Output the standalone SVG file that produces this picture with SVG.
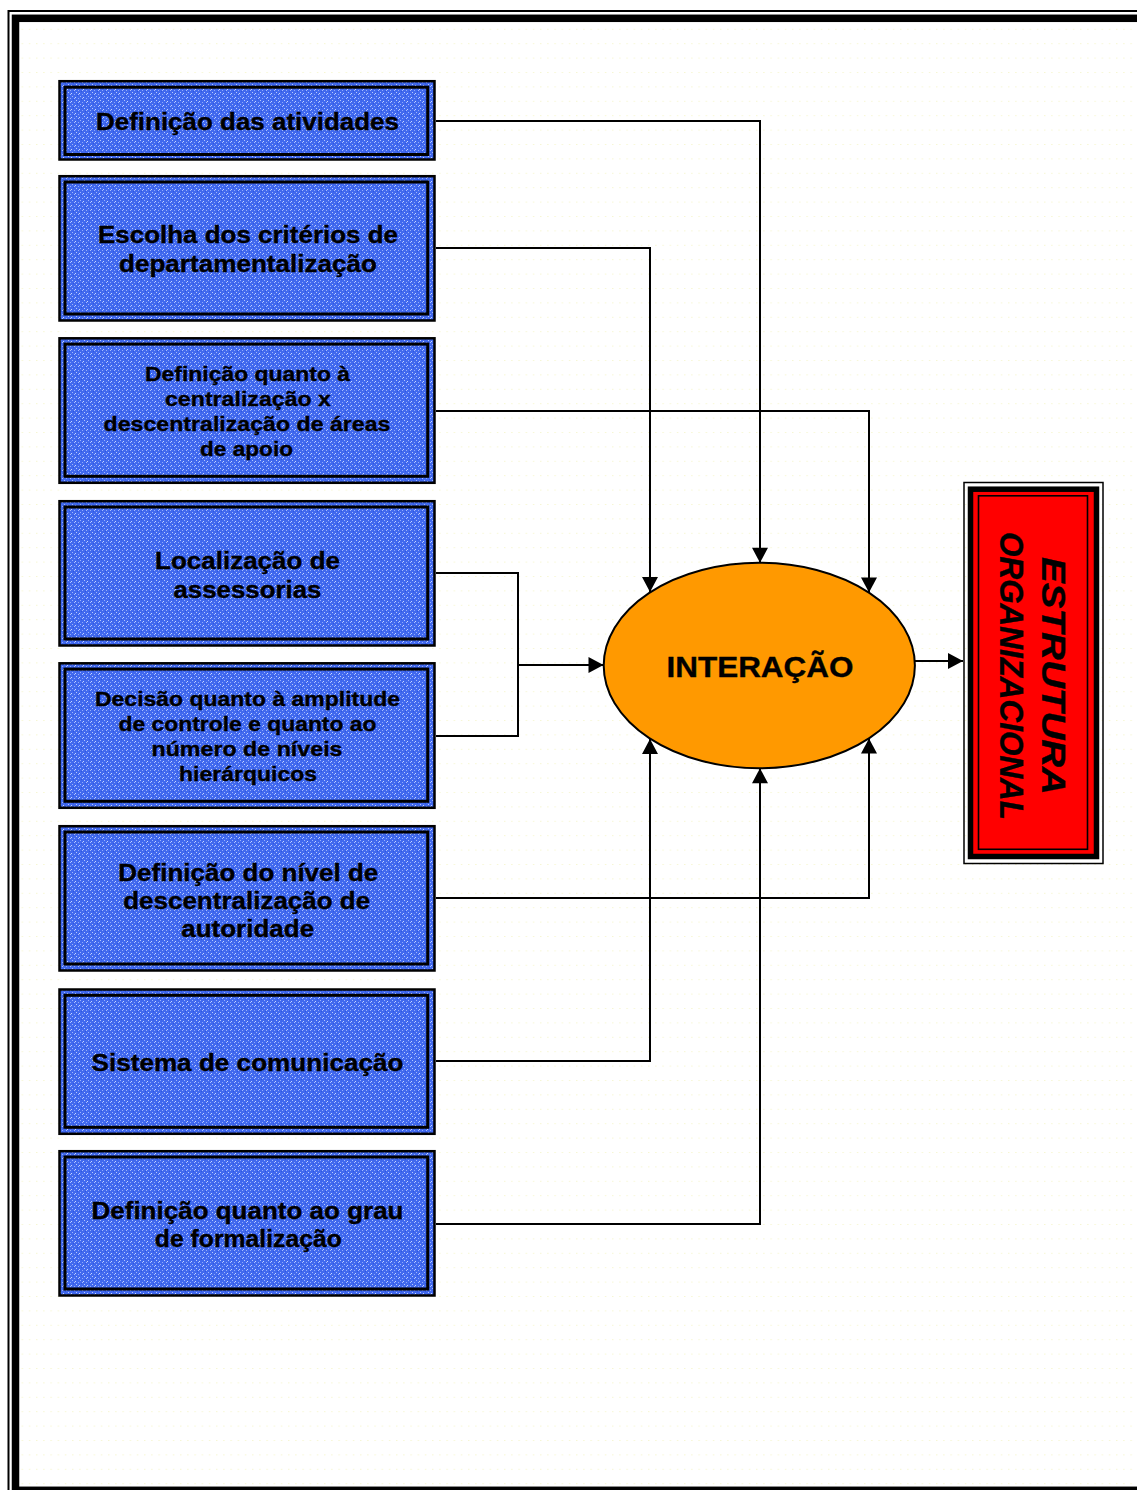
<svg xmlns="http://www.w3.org/2000/svg" width="1137" height="1490" viewBox="0 0 1137 1490">
<defs>
<style>
.box{fill:url(#blueTex);stroke:#000;stroke-width:2.5}
.inner{fill:none;stroke:#000;stroke-width:3}
.t{font-family:"Liberation Sans",Arial,sans-serif;font-weight:bold;fill:#000;text-anchor:middle;stroke:#000;stroke-width:0.35}
.big{font-size:23px}
.small{font-size:20.5px}
.conn{fill:none;stroke:#000;stroke-width:2}
.arr{marker-end:url(#ah)}
</style>
<pattern id="blueTex" patternUnits="userSpaceOnUse" width="8" height="8">
<rect width="8" height="8" fill="#4169EE"/>
<rect x="0" y="0" width="1" height="1" fill="#9DB4FF"/>
<rect x="3" y="1" width="1" height="1" fill="#C8D6FF"/>
<rect x="6" y="2" width="1" height="1" fill="#8EA8FA"/>
<rect x="1" y="3" width="1" height="1" fill="#2D55E2"/>
<rect x="4" y="4" width="1" height="1" fill="#B5C7FF"/>
<rect x="7" y="5" width="1" height="1" fill="#C8D6FF"/>
<rect x="2" y="6" width="1" height="1" fill="#8EA8FA"/>
<rect x="5" y="7" width="1" height="1" fill="#2D55E2"/>
<rect x="6" y="6" width="1" height="1" fill="#A8BCFF"/>
<rect x="2" y="2" width="1" height="1" fill="#A8BCFF"/>
</pattern>
<pattern id="dots" patternUnits="userSpaceOnUse" width="7.2" height="14.4">
<rect x="0" y="0" width="1.4" height="1" fill="#F6F6D2"/>
</pattern>
<marker id="ah" markerUnits="userSpaceOnUse" markerWidth="16" markerHeight="16" viewBox="0 0 15 16" refX="15" refY="8" orient="auto">
<path d="M0,0 L15,8 L0,16 z" fill="#000"/>
</marker>
</defs>

<rect width="1137" height="1490" fill="#fff"/>
<rect x="20" y="22" width="1117" height="1464" fill="url(#dots)"/>

<g id="frame">
<rect x="8.5" y="11" width="1200" height="1500" fill="none" stroke="#000" stroke-width="2"/>
<rect x="15.5" y="18.3" width="1200" height="1472" fill="none" stroke="#000" stroke-width="7.5"/>
</g>

<g id="connectors">
<path class="conn arr" d="M436,121 H760 V562.7"/>
<path class="conn arr" d="M436,248 H650 V592"/>
<path class="conn arr" d="M436,411 H869 V592.5"/>
<path class="conn" d="M436,573 H518 V736 H436"/>
<path class="conn arr" d="M518,665 H603.5"/>
<path class="conn arr" d="M436,898 H869 V738.5"/>
<path class="conn arr" d="M436,1061 H650 V739"/>
<path class="conn arr" d="M436,1224 H760 V768.3"/>
<path class="conn arr" d="M915,661 H963"/>
</g>

<g id="n1">
<rect class="box" x="59.5" y="81.2" width="375" height="78.3"/>
<rect class="inner" x="65" y="87.2" width="362.7" height="67.3"/>
<text class="t big" x="247.5" y="129.5" textLength="303" lengthAdjust="spacingAndGlyphs">Definição das atividades</text>
</g>

<g id="n2">
<rect class="box" x="59.5" y="176.2" width="375" height="144.3"/>
<rect class="inner" x="65" y="182" width="362.7" height="132"/>
<text class="t big" x="248" y="243" textLength="300" lengthAdjust="spacingAndGlyphs">Escolha dos critérios de</text>
<text class="t big" x="248" y="272" textLength="258" lengthAdjust="spacingAndGlyphs">departamentalização</text>
</g>

<g id="n3">
<rect class="box" x="59.5" y="338.3" width="375" height="144.5"/>
<rect class="inner" x="65" y="344.1" width="362.7" height="132.2"/>
<text class="t small" x="247.5" y="381" textLength="205" lengthAdjust="spacingAndGlyphs">Definição quanto à</text>
<text class="t small" x="248" y="405.5" textLength="166" lengthAdjust="spacingAndGlyphs">centralização x</text>
<text class="t small" x="247" y="430.5" textLength="287" lengthAdjust="spacingAndGlyphs">descentralização de áreas</text>
<text class="t small" x="246.5" y="456" textLength="93" lengthAdjust="spacingAndGlyphs">de apoio</text>
</g>

<g id="n4">
<rect class="box" x="59.5" y="501.2" width="375" height="144.3"/>
<rect class="inner" x="65" y="507" width="362.7" height="132"/>
<text class="t big" x="247.5" y="569" textLength="185" lengthAdjust="spacingAndGlyphs">Localização de</text>
<text class="t big" x="247.5" y="598" textLength="148" lengthAdjust="spacingAndGlyphs">assessorias</text>
</g>

<g id="n5">
<rect class="box" x="59.5" y="663.3" width="375" height="144.5"/>
<rect class="inner" x="65" y="669.1" width="362.7" height="132.2"/>
<text class="t small" x="247.5" y="705.5" textLength="305" lengthAdjust="spacingAndGlyphs">Decisão quanto à amplitude</text>
<text class="t small" x="247.5" y="730.5" textLength="258" lengthAdjust="spacingAndGlyphs">de controle e quanto ao</text>
<text class="t small" x="247" y="756" textLength="191" lengthAdjust="spacingAndGlyphs">número de níveis</text>
<text class="t small" x="248" y="781" textLength="138" lengthAdjust="spacingAndGlyphs">hierárquicos</text>
</g>

<g id="n6">
<rect class="box" x="59.5" y="826.2" width="375" height="144.3"/>
<rect class="inner" x="65" y="832" width="362.7" height="132"/>
<text class="t big" x="248.3" y="881" textLength="260" lengthAdjust="spacingAndGlyphs">Definição do nível de</text>
<text class="t big" x="246.7" y="908.5" textLength="247" lengthAdjust="spacingAndGlyphs">descentralização de</text>
<text class="t big" x="247.7" y="937" textLength="133" lengthAdjust="spacingAndGlyphs">autoridade</text>
</g>

<g id="n7">
<rect class="box" x="59.5" y="989.5" width="375" height="144.3"/>
<rect class="inner" x="65" y="995.3" width="362.7" height="132"/>
<text class="t big" x="247.5" y="1071" textLength="312" lengthAdjust="spacingAndGlyphs">Sistema de comunicação</text>
</g>

<g id="n8">
<rect class="box" x="59.5" y="1151.2" width="375" height="144.3"/>
<rect class="inner" x="65" y="1157" width="362.7" height="132"/>
<text class="t big" x="247.5" y="1219" textLength="312" lengthAdjust="spacingAndGlyphs">Definição quanto ao grau</text>
<text class="t big" x="248.3" y="1247" textLength="187" lengthAdjust="spacingAndGlyphs">de formalização</text>
</g>

<g id="interacao">
<ellipse cx="759.3" cy="665.5" rx="155.6" ry="102.8" fill="#FF9900" stroke="#000" stroke-width="2"/>
<text class="t" x="760" y="676.5" font-size="29" textLength="187" lengthAdjust="spacingAndGlyphs">INTERAÇÃO</text>
</g>

<g id="estrutura">
<rect x="964" y="482.5" width="139" height="381" fill="none" stroke="#000" stroke-width="1.5"/>
<rect x="970.5" y="489.2" width="126" height="367.3" fill="#FF0000" stroke="#000" stroke-width="5.5"/>
<rect x="978.5" y="495.8" width="109" height="353.5" fill="none" stroke="#000" stroke-width="1.6"/>
<text class="t" font-size="33" font-style="italic" transform="translate(1042,676) rotate(90)" x="0" y="0" textLength="238" lengthAdjust="spacingAndGlyphs">ESTRUTURA</text>
<text class="t" font-size="33" font-style="italic" transform="translate(1000,676) rotate(90)" x="0" y="0" textLength="288" lengthAdjust="spacingAndGlyphs">ORGANIZACIONAL</text>
</g>
</svg>
